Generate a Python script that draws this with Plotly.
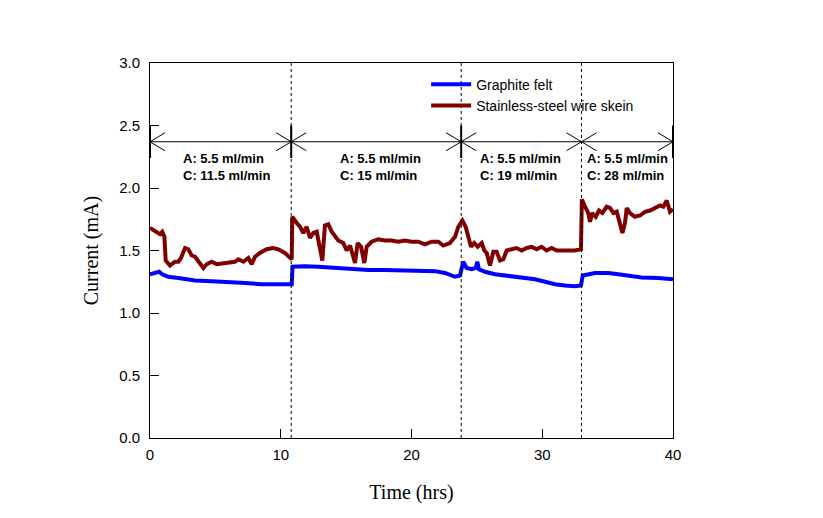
import plotly.graph_objects as go

# ---------------- data ----------------
graphite_t = [0, 0.7, 0.94, 1.4, 2.17, 3.44, 4.72, 6.0, 7.27, 8.54, 9.81, 10.84,
              10.9, 11.86, 12.87, 14.15, 15.42, 16.7, 17.97, 19.25, 20.52, 21.8, 22.56, 23.33, 23.71,
              23.96, 24.21, 24.6, 24.92, 25.03, 25.16, 25.62, 26.39, 27.15, 27.92, 28.68, 29.45,
              30.21, 30.97, 31.74, 32.5, 32.96,
              33.1, 34.03, 35.05, 35.82, 36.58, 37.6, 38.88, 40]
graphite_i = [1.31, 1.33, 1.31, 1.29, 1.28, 1.26, 1.255, 1.25, 1.24, 1.23, 1.23, 1.23,
              1.37, 1.375, 1.37, 1.36, 1.35, 1.345, 1.345, 1.34, 1.335, 1.335, 1.32, 1.29, 1.30,
              1.41, 1.36, 1.35, 1.36, 1.41, 1.35, 1.33, 1.31, 1.30, 1.29, 1.28, 1.27,
              1.25, 1.23, 1.22, 1.215, 1.22,
              1.30, 1.32, 1.32, 1.31, 1.30, 1.285, 1.28, 1.27]

steel_t = [0, 0.5, 0.76, 0.94, 1.1, 1.2, 1.53, 1.91, 2.17, 2.37, 2.68, 2.93, 3.19, 3.44, 3.7,
           4.08, 4.33, 4.72, 5.1, 5.61, 6.12, 6.5, 6.76, 7.14, 7.52, 7.78, 8.03, 8.41, 8.92,
           9.43, 9.81, 10.32, 10.84,
           10.88, 11.22, 11.47, 11.73, 11.98, 12.24, 12.49, 12.75, 13.0, 13.18, 13.38, 13.64,
           13.9, 14.15, 14.4, 14.78, 15.04, 15.3, 15.55, 15.68, 15.88, 16.14, 16.39, 16.57,
           16.95, 17.46, 17.97, 18.48, 18.99, 19.5, 20.0, 20.52, 21.03, 21.54, 22.05, 22.43,
           22.94, 23.33, 23.58,
           23.89, 24.14, 24.35, 24.55, 24.8, 25.06, 25.37, 25.57, 25.75, 26.0, 26.26, 26.51,
           26.77, 27.02, 27.28, 27.66, 28.03, 28.43, 28.81, 29.19, 29.57, 29.95, 30.33, 30.72,
           31.1, 31.48, 31.99, 32.5, 32.96,
           33.03, 33.27, 33.52, 33.65, 33.83, 34.09, 34.34, 34.6, 34.93, 35.18, 35.44, 35.7,
           35.95, 36.13, 36.33, 36.46, 36.71, 37.09, 37.48, 37.86, 38.24, 38.62, 39.01, 39.26,
           39.52, 39.77, 40]
steel_i = [1.68, 1.65, 1.63, 1.65, 1.61, 1.42, 1.38, 1.41, 1.41, 1.44, 1.52, 1.51, 1.46, 1.45, 1.41,
           1.36, 1.39, 1.41, 1.39, 1.40, 1.41, 1.41, 1.43, 1.41, 1.44, 1.39, 1.45, 1.48, 1.51,
           1.52, 1.51, 1.48, 1.43,
           1.77, 1.72, 1.69, 1.64, 1.69, 1.60, 1.64, 1.65, 1.50, 1.42, 1.70, 1.71,
           1.65, 1.61, 1.58, 1.56, 1.50, 1.54, 1.46, 1.40, 1.56, 1.53, 1.40, 1.53,
           1.57, 1.59, 1.58, 1.58, 1.57, 1.58, 1.57, 1.57, 1.55, 1.57, 1.57, 1.54,
           1.56, 1.61, 1.69,
           1.74, 1.69, 1.61, 1.53, 1.56, 1.53, 1.56, 1.50, 1.48, 1.38, 1.49, 1.49,
           1.42, 1.43, 1.50, 1.51, 1.52, 1.50, 1.52, 1.53, 1.51, 1.53, 1.50, 1.52,
           1.50, 1.50, 1.50, 1.50, 1.51,
           1.91, 1.85, 1.80, 1.73, 1.80, 1.77, 1.82, 1.80, 1.85, 1.84, 1.80, 1.81,
           1.72, 1.64, 1.72, 1.84, 1.80, 1.77, 1.78, 1.81, 1.82, 1.84, 1.86, 1.85,
           1.90, 1.81, 1.83]

phase_bounds = [0, 10.8, 23.8, 33.0, 40]   # hrs, change of flow rate
bar_positions = [0, 10.8, 23.8, 40]
anode_flow = ["5.5", "5.5", "5.5", "5.5"]
cathode_flow = ["11.5", "15", "19", "28"]
x_ticks = [0, 10, 20, 30, 40]
y_ticks = [0.0, 0.5, 1.0, 1.5, 2.0, 2.5, 3.0]

# ---------------- styling constants ----------------
BLUE = "#0000FF"
RED = "#800000"
ARROW_Y = 2.37
BAR_Y0, BAR_Y1 = 2.24, 2.50
HEAD_L, HEAD_H = 1.15, 0.072
label_x = [2.4, 14.35, 25.05, 33.25]
LABEL_Y = 2.165

fig = go.Figure()
fig.add_trace(go.Scatter(x=graphite_t, y=graphite_i, mode="lines", name="Graphite felt",
                         line=dict(color=BLUE, width=4)))
fig.add_trace(go.Scatter(x=steel_t, y=steel_i, mode="lines", name="Stainless-steel wire skein",
                         line=dict(color=RED, width=4)))

shapes = []
# dotted separators
for b in phase_bounds[1:-1]:
    shapes.append(dict(type="line", xref="x", yref="y", x0=b, x1=b, y0=0, y1=3,
                       line=dict(color="black", width=1, dash="dot")))
# horizontal arrow line
shapes.append(dict(type="line", xref="x", yref="y", x0=phase_bounds[0], x1=phase_bounds[-1],
                   y0=ARROW_Y, y1=ARROW_Y, line=dict(color="black", width=1)))
# arrowheads at both ends of each phase
for a, b in zip(phase_bounds[:-1], phase_bounds[1:]):
    for s in (1, -1):
        shapes.append(dict(type="line", xref="x", yref="y", x0=a, y0=ARROW_Y,
                           x1=a + HEAD_L, y1=ARROW_Y + s * HEAD_H, line=dict(color="black", width=1)))
        shapes.append(dict(type="line", xref="x", yref="y", x0=b, y0=ARROW_Y,
                           x1=b - HEAD_L, y1=ARROW_Y + s * HEAD_H, line=dict(color="black", width=1)))
# vertical bars
for b in bar_positions:
    shapes.append(dict(type="line", xref="x", yref="y", x0=b, x1=b, y0=BAR_Y0, y1=BAR_Y1,
                       line=dict(color="black", width=2)))

annotations = []
for lx, af, cf in zip(label_x, anode_flow, cathode_flow):
    annotations.append(dict(x=lx, y=LABEL_Y, xref="x", yref="y", xanchor="left", yanchor="middle",
                            showarrow=False, align="left",
                            text=f"<b>A: {af} ml/min<br>C: {cf} ml/min</b>",
                            font=dict(family="Arial, Liberation Sans", size=13, color="black")))

fig.update_layout(
    width=823, height=518,
    margin=dict(l=142, r=158, t=55, b=88),
    paper_bgcolor="white", plot_bgcolor="white",
    shapes=shapes, annotations=annotations,
    legend=dict(x=0.528, y=0.985, xanchor="left", yanchor="top", bgcolor="rgba(0,0,0,0)",
                font=dict(family="Arial, Liberation Sans", size=14, color="black"),
                tracegroupgap=0, itemwidth=40),
    font=dict(family="Arial, Liberation Sans", color="black"),
)
fig.update_xaxes(range=[0, 40], tickvals=x_ticks, ticktext=[str(v) for v in x_ticks],
                 ticks="inside", ticklen=9, tickcolor="black", showgrid=False, zeroline=False,
                 showline=True, linecolor="black", linewidth=1, mirror=True,
                 ticklabelstandoff=3,
                 tickfont=dict(family="Arial, Liberation Sans", size=15, color="black"),
                 title=dict(text="Time (hrs)", standoff=22,
                            font=dict(family="Liberation Serif, Times New Roman", size=20, color="black")))
fig.update_yaxes(range=[0, 3], tickvals=y_ticks, ticktext=[f"{v:.1f}" for v in y_ticks],
                 ticks="inside", ticklen=9, tickcolor="black", showgrid=False, zeroline=False,
                 showline=True, linecolor="black", linewidth=1, mirror=True,
                 ticklabelstandoff=6,
                 tickfont=dict(family="Arial, Liberation Sans", size=15, color="black"),
                 title=dict(text="Current (mA)", standoff=15,
                            font=dict(family="Liberation Serif, Times New Roman", size=20, color="black")))

fig.write_html("out.html")
